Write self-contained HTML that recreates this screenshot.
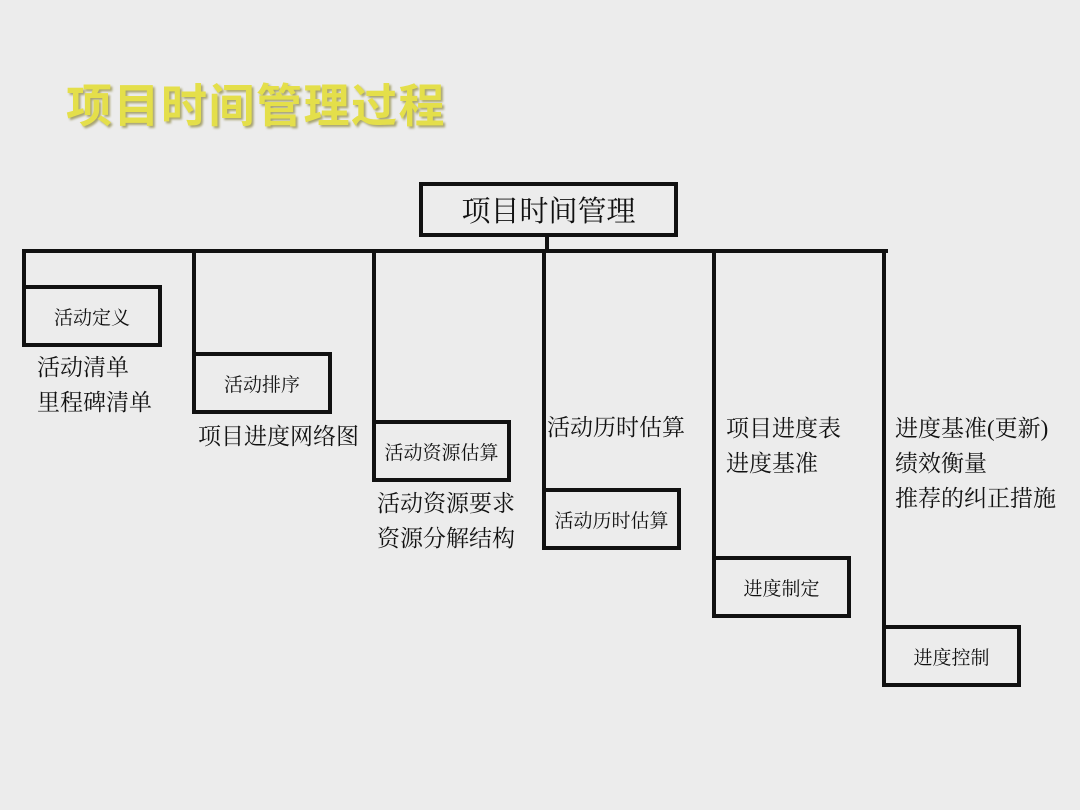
<!DOCTYPE html>
<html><head><meta charset="utf-8"><style>
body{margin:0;width:1080px;height:810px;background:#ececec;position:relative;overflow:hidden;font-family:"Liberation Serif","Noto Serif CJK SC",serif;color:#111}
.a{position:absolute}
.title{left:66px;top:70px;font-family:"Liberation Sans","Noto Sans CJK SC",sans-serif;font-size:46px;font-weight:bold;color:#e4df4a;text-shadow:2px 2px 2px #a8a470;letter-spacing:1.5px;white-space:nowrap}
.box{position:absolute;border:4px solid #111;box-sizing:border-box;display:flex;align-items:center;justify-content:center;font-size:19px;white-space:nowrap}
.v{position:absolute;width:4px;background:#111}
.t{position:absolute;font-size:23px;line-height:35px;white-space:nowrap}
</style></head><body>
<div class="a title">项目时间管理过程</div>
<div class="box" style="left:419px;top:182px;width:259px;height:55px;font-size:29px">项目时间管理</div>
<div class="v" style="left:545px;top:235px;height:17px"></div>
<div class="a" style="left:22px;top:249px;width:866px;height:4px;background:#111"></div>
<div class="v" style="left:22px;top:249px;height:98px"></div>
<div class="v" style="left:192px;top:249px;height:165px"></div>
<div class="v" style="left:372px;top:249px;height:233px"></div>
<div class="v" style="left:542px;top:249px;height:301px"></div>
<div class="v" style="left:712px;top:249px;height:369px"></div>
<div class="v" style="left:882px;top:249px;height:438px"></div>
<div class="box" style="left:22px;top:285px;width:140px;height:62px">活动定义</div>
<div class="box" style="left:192px;top:352px;width:140px;height:62px">活动排序</div>
<div class="box" style="left:372px;top:420px;width:139px;height:62px">活动资源估算</div>
<div class="box" style="left:542px;top:488px;width:139px;height:62px">活动历时估算</div>
<div class="box" style="left:712px;top:556px;width:139px;height:62px">进度制定</div>
<div class="box" style="left:882px;top:625px;width:139px;height:62px">进度控制</div>
<div class="t" style="left:37px;top:350px">活动清单<br>里程碑清单</div>
<div class="t" style="left:198px;top:419px">项目进度网络图</div>
<div class="t" style="left:377px;top:486px">活动资源要求<br>资源分解结构</div>
<div class="t" style="left:547px;top:410px">活动历时估算</div>
<div class="t" style="left:726px;top:411px">项目进度表<br>进度基准</div>
<div class="t" style="left:895px;top:411px">进度基准(更新)<br>绩效衡量<br>推荐的纠正措施</div>
</body></html>
